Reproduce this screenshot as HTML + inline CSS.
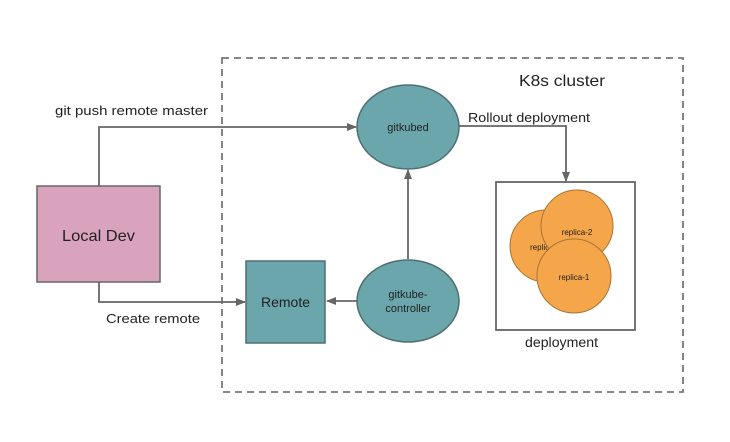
<!DOCTYPE html>
<html><head><meta charset="utf-8"><style>
html,body{margin:0;padding:0;background:#fff;}
svg{display:block}
text{font-family:"Liberation Sans",sans-serif;fill:#222;}
</style></head><body>
<svg width="730" height="442" viewBox="0 0 730 442" xmlns="http://www.w3.org/2000/svg">
<defs>
<marker id="a" markerWidth="10" markerHeight="10" refX="9" refY="5" orient="auto" markerUnits="userSpaceOnUse">
<path d="M0,1 L10,5 L0,9 Z" fill="#666"/></marker>
</defs>
<rect x="0" y="0" width="730" height="442" fill="#fff"/>
<rect x="222" y="58" width="461" height="334" fill="none" stroke="#777" stroke-width="1.8" stroke-dasharray="7,5"/>
<text x="519" y="86" font-size="16" textLength="86" lengthAdjust="spacingAndGlyphs">K8s cluster</text>
<g stroke="#666" stroke-width="1.8" fill="none">
<path d="M99 186 V127 H356" marker-end="url(#a)"/>
<path d="M99 282 V302 H245" marker-end="url(#a)"/>
<path d="M408 259 V170" marker-end="url(#a)"/>
<path d="M357 301 H327" marker-end="url(#a)"/>
<path d="M459 126 H566 V181" marker-end="url(#a)"/>
</g>
<text x="55" y="115" font-size="13" textLength="153" lengthAdjust="spacingAndGlyphs">git push remote master</text>
<text x="106" y="323" font-size="13" textLength="94" lengthAdjust="spacingAndGlyphs">Create remote</text>
<text x="468" y="122" font-size="13" textLength="122" lengthAdjust="spacingAndGlyphs">Rollout deployment</text>
<rect x="37" y="186" width="123" height="96" fill="#d9a3bd" stroke="#666" stroke-width="1.5"/>
<text x="62" y="241" font-size="16" textLength="73" lengthAdjust="spacingAndGlyphs">Local Dev</text>
<ellipse cx="408" cy="127" rx="51" ry="42" fill="#6aa6ab" stroke="#4f6f72" stroke-width="1.5"/>
<text x="408" y="131" font-size="11" text-anchor="middle">gitkubed</text>
<ellipse cx="408" cy="301" rx="51" ry="41" fill="#6aa6ab" stroke="#4f6f72" stroke-width="1.5"/>
<text x="408" y="298" font-size="11" text-anchor="middle">gitkube-</text>
<text x="408" y="312" font-size="11" text-anchor="middle">controller</text>
<rect x="246" y="261" width="79" height="82" fill="#6aa6ab" stroke="#4f6f72" stroke-width="1.5"/>
<text x="261" y="307" font-size="14" textLength="49" lengthAdjust="spacingAndGlyphs">Remote</text>
<rect x="496" y="182" width="139" height="148" fill="#fff" stroke="#666" stroke-width="1.8"/>
<circle cx="546" cy="246" r="36" fill="#f6a64a" stroke="#a87434" stroke-width="1"/>
<text x="530" y="250" font-size="8">replica-3</text>
<circle cx="577" cy="226" r="36" fill="#f6a64a" stroke="#a87434" stroke-width="1"/>
<text x="577" y="235" font-size="8" text-anchor="middle">replica-2</text>
<circle cx="574" cy="276" r="37" fill="#f6a64a" stroke="#a87434" stroke-width="1"/>
<text x="574" y="280" font-size="8" text-anchor="middle">replica-1</text>
<text x="525" y="347" font-size="14" textLength="73" lengthAdjust="spacingAndGlyphs">deployment</text>
</svg>
</body></html>
